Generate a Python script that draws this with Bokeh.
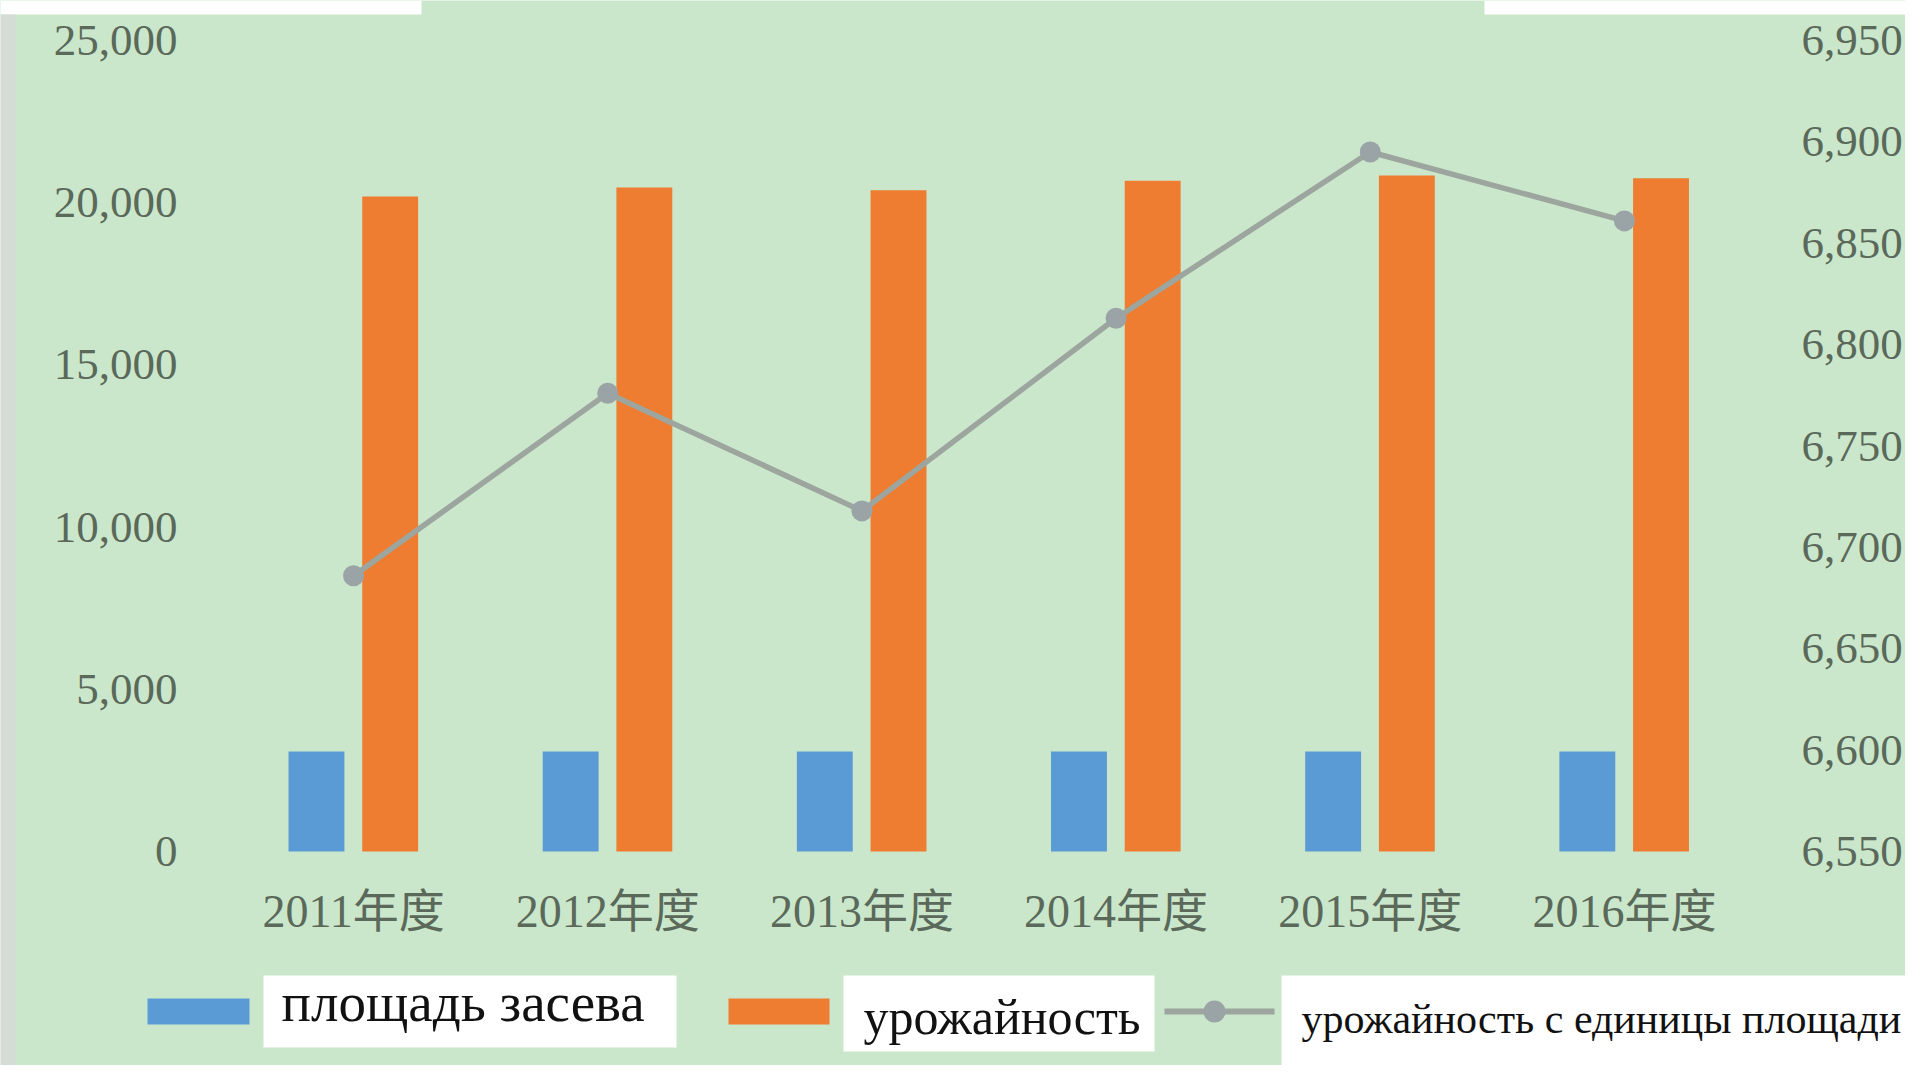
from bokeh.plotting import figure
from bokeh.models import (Range1d, LinearAxis, FixedTicker, NumeralTickFormatter,
                          ColumnDataSource, Label, BoxAnnotation)
from bokeh.embed import file_html
from bokeh.resources import INLINE

# ---- data ----
years = ["2011年度", "2012年度", "2013年度", "2014年度", "2015年度", "2016年度"]
sown_area = [3080, 3080, 3080, 3080, 3080, 3080]
harvest = [20190, 20470, 20380, 20680, 20840, 20750]
yield_per_area = [6686, 6776, 6718, 6813, 6895, 6861]
left_ticks = [0, 5000, 10000, 15000, 20000, 25000]
right_ticks = [6550, 6600, 6650, 6700, 6750, 6800, 6850, 6900, 6950]
legend_labels = ["площадь засева", "урожайность", "урожайность с единицы площади"]

BG = "#cbe7cb"
BLUE = "#5b9bd5"
ORANGE = "#ee7d31"
GREY = "#9ca59e"
MARK = "#9aa3a6"
TICK_COL = "#5a695a"
SERIF = "'Liberation Serif', 'Times New Roman', 'Noto Sans CJK SC', serif"

# ---- layout (pixels of the canvas) ----
W, H = 1905, 1065
PLOT_L, PLOT_R, PLOT_T, PLOT_B = 226, 1751, 40, 851
n = len(years)
cat_px = (PLOT_R - PLOT_L) / n
x_start = -(PLOT_L + cat_px / 2) / cat_px
x_end = x_start + W / cat_px
y_lo, y_hi = left_ticks[0], left_ticks[-1]
ly = (y_hi - y_lo) / (PLOT_B - PLOT_T)
r_lo, r_hi = right_ticks[0], right_ticks[-1]
ry = (r_hi - r_lo) / (PLOT_B - PLOT_T)

idx = list(range(n))
src = ColumnDataSource(dict(
    x=idx,
    xb=[i - 0.146 for i in idx],
    xo=[i + 0.144 for i in idx],
    area=sown_area, harvest=harvest, yld=yield_per_area))

p = figure(x_range=Range1d(x_start, x_end),
           y_range=Range1d(y_lo - (H - PLOT_B) * ly, y_hi + PLOT_T * ly),
           frame_width=W, frame_height=H, min_border=0,
           x_axis_type=None, y_axis_type=None,
           output_backend="svg", toolbar_location=None,
           background_fill_color=BG, border_fill_color=BG, outline_line_color=None)
p.extra_y_ranges = {"right": Range1d(r_lo - (H - PLOT_B) * ry, r_hi + PLOT_T * ry)}

p.vbar(x="xb", top="area", bottom=0, width=0.22, source=src, fill_color=BLUE, line_color=None)
p.vbar(x="xo", top="harvest", bottom=0, width=0.22, source=src, fill_color=ORANGE, line_color=None)
p.line(x="x", y="yld", source=src, y_range_name="right", line_color=GREY, line_width=5.5)
p.scatter(x="x", y="yld", source=src, y_range_name="right", size=21,
          fill_color=MARK, line_color=None)

p.xgrid.visible = False
p.ygrid.visible = False

def style_axis(ax, standoff, size):
    ax.axis_line_color = None
    ax.major_tick_line_color = None
    ax.minor_tick_line_color = None
    ax.major_label_text_font = SERIF
    ax.major_label_text_color = TICK_COL
    ax.major_label_standoff = standoff
    ax.major_label_text_font_size = size

ya = LinearAxis(ticker=FixedTicker(ticks=left_ticks), formatter=NumeralTickFormatter(format="0,0"),
                fixed_location=-0.5)
style_axis(ya, 43, "45px")
p.add_layout(ya, "left")

ra = LinearAxis(y_range_name="right", ticker=FixedTicker(ticks=right_ticks),
                formatter=NumeralTickFormatter(format="0,0"), fixed_location=n - 0.5)
style_axis(ra, 44, "45px")
p.add_layout(ra, "right")

xa = LinearAxis(ticker=FixedTicker(ticks=idx),
                major_label_overrides={i: y for i, y in zip(idx, years)}, fixed_location=0)
style_axis(xa, 28, "46px")
p.add_layout(xa, "below")

CU = dict(left_units="canvas", right_units="canvas", top_units="canvas", bottom_units="canvas")

def box(l, r, t, b, color, **kw):
    p.add_layout(BoxAnnotation(left=l, right=r, top=t, bottom=b, fill_color=color, fill_alpha=1,
                               line_color=None, level="overlay", **CU, **kw))

# pasted white strips at top, grey strip at left
box(0, 421, 0, 14, "white")
box(1484, W, 0, 14, "white")
box(0, 15, 14, H, "#d5dbd5")

# legend: white label boxes
box(263, 676, 975, 1047, "white")
box(843, 1154, 975, 1051, "white")
box(1281, W, 975, H, "white")
# swatches
box(147, 249, 998, 1024, BLUE)
box(728, 829, 998, 1024, ORANGE)
box(1164, 1274, 1008, 1014, GREY)
try:
    box(1203, 1225, 1000, 1022, MARK, border_radius=11)
except Exception:
    box(1205, 1223, 1002, 1020, MARK)

for lab, tx, ty, fs in zip(legend_labels, [281, 863, 1301], [1002, 1016, 1018], ["55px", "50px", "42px"]):
    p.add_layout(Label(x=tx, y=ty, x_units="canvas", y_units="canvas", text=lab,
                       text_font=SERIF, text_font_size=fs, text_color="#111111",
                       text_baseline="alphabetic", text_align="left", level="overlay"))

open("out.html", "w").write(file_html(p, INLINE))
